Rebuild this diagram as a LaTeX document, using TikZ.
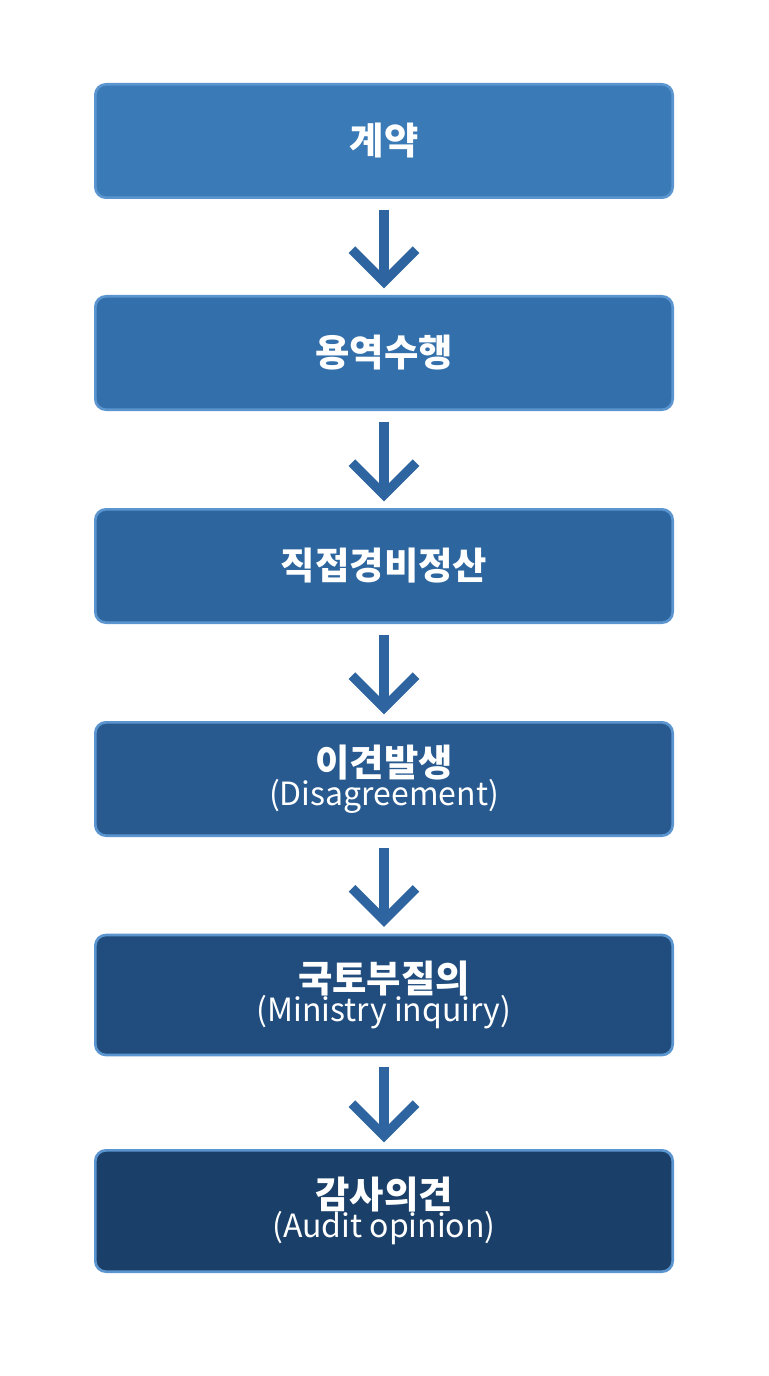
\documentclass[tikz,border=0pt]{standalone}
\usepackage{fontspec}
\newfontfamily\kr{Noto Sans CJK KR}
\definecolor{cA}{HTML}{3A7AB6}
\definecolor{cB}{HTML}{336FAA}
\definecolor{cC}{HTML}{2D659F}
\definecolor{cD}{HTML}{285A90}
\definecolor{cE}{HTML}{214D7E}
\definecolor{cF}{HTML}{1A3F68}
\definecolor{edgeblue}{HTML}{5B95CF}
\definecolor{arrowblue}{HTML}{2E64A0}
\tikzset{
  step/.style={draw=edgeblue, line width=2pt, rounded corners=8pt, minimum width=433pt,
    minimum height=#1, align=center, text=white, font=\kr},
  flow/.style={draw=arrowblue, line width=7pt, line join=miter},
}
\newcommand{\ttl}[1]{{\fontsize{28}{32}\selectfont\bfseries #1}}
\newcommand{\sub}[1]{{\fontsize{24}{27}\selectfont #1}}
\begin{document}
\begin{tikzpicture}[x=0.75pt,y=0.75pt,yscale=-1,xscale=1]
\path[fill=white] (0,0) rectangle (768,1376);

% steps
\node[step=85pt, fill=cA] (contract) at (384,141) {\ttl{계약}};
\node[step=85pt, fill=cB] (service) at (384,353) {\ttl{용역수행}};
\node[step=85pt, fill=cC] (settle) at (384,566) {\ttl{직접경비정산}};
\node[step=85pt, fill=cD] (dispute) at (384,779) {\ttl{이견발생}\\[-2pt]\sub{(Disagreement)}};
\node[step=90pt, fill=cE] (inquiry) at (384,995) {\ttl{국토부질의}\\[-2pt]\sub{(Ministry inquiry)}};
\node[step=91pt, fill=cF] (audit) at (384,1211) {\ttl{감사의견}\\[-2pt]\sub{(Audit opinion)}};

% arrows
\foreach \a/\b in {contract/service, service/settle, settle/dispute, dispute/inquiry, inquiry/audit}{
  \draw[flow] ([yshift=8pt]\a.south) -- ([yshift=-12pt]\b.north);
  \draw[flow] ([xshift=-24pt,yshift=-34pt]\b.north) -- ([yshift=-10pt]\b.north) -- ([xshift=24pt,yshift=-34pt]\b.north);
}
\end{tikzpicture}
\end{document}
